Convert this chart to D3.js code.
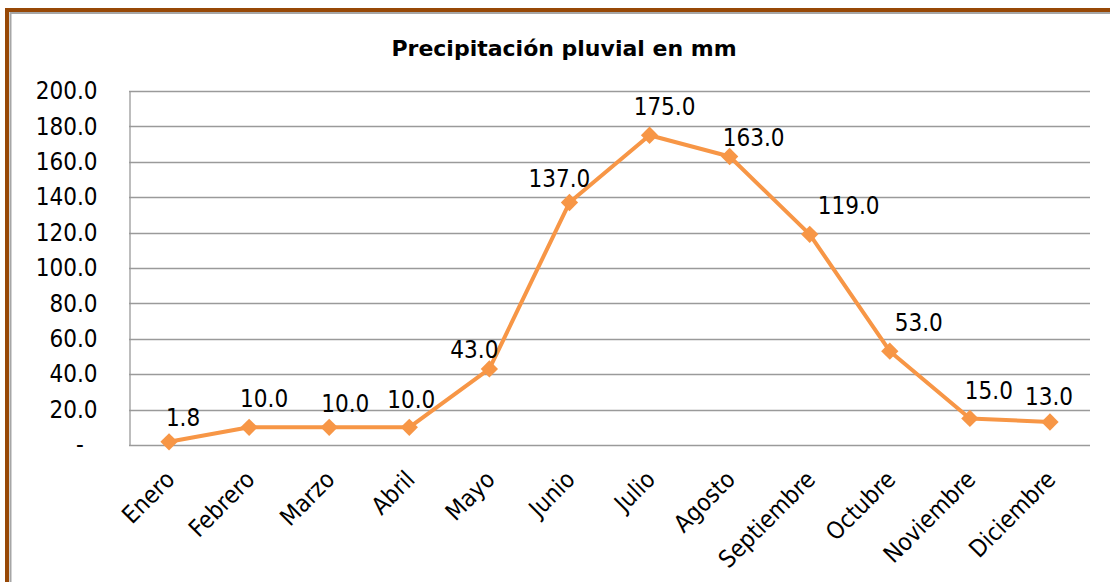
<!DOCTYPE html>
<html>
  <head>
    <meta charset="utf-8">
    <style>
      body {
        margin: 0;
        background: #fff;
      }
      svg {
        display: block;
      }
      .lbl {
        font-family: "DejaVu Sans Condensed", "DejaVu Sans", sans-serif;
        font-stretch: condensed;
        font-size: 24px;
        fill: #000;
      }
      .title {
        font-family: "DejaVu Sans", sans-serif;
        font-weight: bold;
        font-size: 22px;
      }
    </style>
  </head>
  <body>
    <script src="https://d3js.org/d3.v7.min.js"></script>
    <script>
      const months = ["Enero", "Febrero", "Marzo", "Abril", "Mayo", "Junio", "Julio",
          "Agosto", "Septiembre", "Octubre", "Noviembre", "Diciembre"],
          rainfall = [1.8, 10, 10, 10, 43, 137, 175, 163, 119, 53, 15, 13],
          yTicks = [0, 20, 40, 60, 80, 100, 120, 140, 160, 180, 200];

      // hand placed label nudges [dx, dy] relative to each point
      const labelNudge = [[14, -16], [15, -20], [16, -15], [2, -19], [-15, -11], [-10, -16],
          [15, -20], [24, -10], [39, -20], [29, -20], [19, -19], [-1, -17]];

      const width = 1110, height = 582,
          margin = {left: 129, right: 20, top: 91, bottom: 137};

      const svg = d3.select("body").append("svg")
          .attr("width", width)
          .attr("height", height);

      // outer chart border (cut off on the right and bottom)
      svg.append("rect")
          .attr("x", 7).attr("y", 10)
          .attr("width", width + 20).attr("height", height + 20)
          .attr("fill", "none")
          .attr("stroke", "#974806")
          .attr("stroke-width", 4);
      svg.append("rect")
          .attr("x", 10.5).attr("y", 13)
          .attr("width", width + 20).attr("height", height + 20)
          .attr("fill", "none")
          .attr("stroke", "#a6a6a6")
          .attr("stroke-width", 2);

      svg.append("text")
          .attr("class", "title")
          .attr("x", 564)
          .attr("y", 56)
          .attr("text-anchor", "middle")
          .text("Precipitación pluvial en mm");

      const x = d3.scalePoint()
          .domain(months)
          .range([margin.left, width - margin.right])
          .padding(0.5);

      const y = d3.scaleLinear()
          .domain([0, 200])
          .range([height - margin.bottom, margin.top]);

      // gridlines
      svg.append("g")
          .selectAll("line")
          .data(yTicks)
          .join("line")
          .attr("x1", margin.left)
          .attr("x2", width - margin.right)
          .attr("y1", d => Math.round(y(d)) + 0.5)
          .attr("y2", d => Math.round(y(d)) + 0.5)
          .attr("stroke", "#9a9a9a")
          .attr("stroke-width", 1.3);

      // y axis
      const yAxis = svg.append("g")
          .attr("transform", `translate(${margin.left + 0.5},0)`)
          .call(d3.axisLeft(y)
            .tickValues(yTicks)
            .tickSize(0)
            .tickPadding(32)
            .tickFormat(d => d === 0 ? "-\u00a0\u00a0" : d3.format(".1f")(d)));
      yAxis.select(".domain").attr("stroke", "#9a9a9a").attr("stroke-width", 1.3);
      yAxis.selectAll("text").attr("class", "lbl").attr("fill", null);

      // x labels
      svg.append("g")
          .selectAll("text")
          .data(months)
          .join("text")
          .attr("class", "lbl")
          .attr("text-anchor", "end")
          .attr("transform", d => `translate(${x(d) + 7},${y(0) + 36}) rotate(-45)`)
          .text(d => d);

      const line = d3.line()
          .x((d, i) => x(months[i]))
          .y(d => y(d));

      svg.append("path")
          .datum(rainfall)
          .attr("fill", "none")
          .attr("stroke", "#f79646")
          .attr("stroke-width", 4)
          .attr("stroke-linejoin", "round")
          .attr("d", line);

      svg.append("g")
          .selectAll("path")
          .data(rainfall)
          .join("path")
          .attr("d", d3.symbol(d3.symbolSquare, 150))
          .attr("transform", (d, i) => `translate(${x(months[i])},${y(d)}) rotate(45)`)
          .attr("fill", "#f79646");

      svg.append("g")
          .selectAll("text")
          .data(rainfall)
          .join("text")
          .attr("class", "lbl")
          .attr("text-anchor", "middle")
          .attr("x", (d, i) => x(months[i]) + labelNudge[i][0])
          .attr("y", (d, i) => y(d) + labelNudge[i][1])
          .text(d => d3.format(".1f")(d));
    </script>
  </body>
</html>
